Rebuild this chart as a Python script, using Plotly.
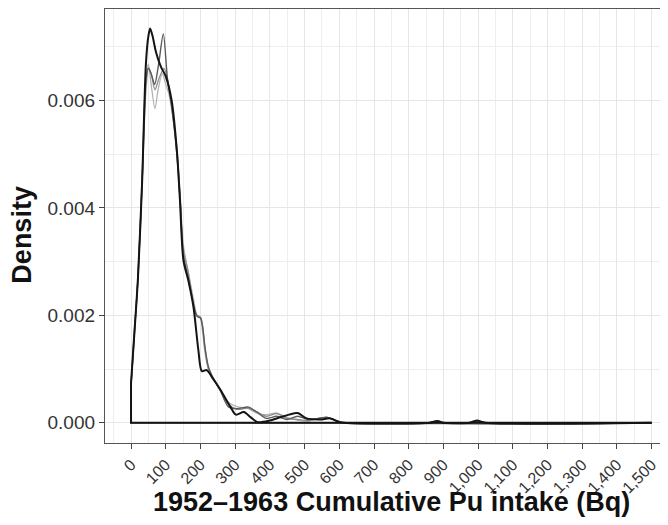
import plotly.graph_objects as go

# Density curves (x in Bq, y density)
black_x = [0, 10, 20, 32, 43, 50, 55, 62, 72, 86, 100, 117, 132, 141, 151, 165, 180, 194, 204, 218,
           233, 257, 286, 302, 325, 345, 365, 400, 430, 455, 480, 506, 545, 574, 598, 615, 860, 882, 900, 975,
           997, 1020, 1500]
black_y = [0.00074, 0.0017, 0.0027, 0.0045, 0.0067, 0.0072, 0.00734, 0.0072, 0.0069, 0.00663,
           0.00645, 0.0060, 0.00507, 0.00414, 0.00302, 0.00265, 0.00215, 0.00135, 0.00096, 0.00098,
           0.00085, 0.00062, 0.0003, 0.00015, 0.0002, 0.0001, 0.00001, 0.00004, 0.0001, 0.00015,
           0.00018, 0.00008, 0.00006, 0.00008, 0.00002, 0.0, 0.0, 0.00003, 0.0, 0.0,
           0.00004, 0.0, 0.0]

dgray_x = [0, 10, 20, 32, 43, 50, 58, 68, 80, 93, 105, 117, 132, 141, 151, 165, 180, 190, 200, 206,
           213, 223, 233, 257, 280, 305, 338, 362, 390, 420, 449, 480, 510, 540, 565, 590, 610, 860, 878, 895,
           980, 1000, 1020, 1500]
dgray_y = [0.0007, 0.0017, 0.0027, 0.0045, 0.0064, 0.0066, 0.0065, 0.0063, 0.0067, 0.00724,
           0.0064, 0.0059, 0.0050, 0.0042, 0.0031, 0.0027, 0.0022, 0.00198, 0.00195, 0.0018,
           0.0014, 0.00104, 0.00088, 0.0006, 0.0003, 0.00026, 0.00029, 0.0002, 0.00008, 0.00012,
           0.00006, 0.00012, 0.00006, 0.00008, 0.0001, 0.00004, 0.0, 0.0, 0.00003, 0.0,
           0.0, 0.00003, 0.0, 0.0]

mgray_x = [0, 10, 20, 32, 43, 50, 58, 69, 80, 95, 105, 117, 132, 141, 151, 165, 180, 190, 200, 206,
           213, 223, 233, 257, 280, 305, 338, 362, 390, 420, 449, 480, 510, 540, 565, 590, 610, 870, 886, 900,
           1500]
mgray_y = [0.0007, 0.0017, 0.0027, 0.0045, 0.0062, 0.0066, 0.0065, 0.0062, 0.0064, 0.0066,
           0.0064, 0.0059, 0.0051, 0.0042, 0.0032, 0.0028, 0.0022, 0.002, 0.00197, 0.0018,
           0.0014, 0.001, 0.00085, 0.00062, 0.00035, 0.00025, 0.00027, 0.0002, 0.00012, 0.00017,
           0.00008, 0.00006, 0.00004, 0.00008, 0.0001, 0.00004, 0.0, 0.0, 0.00004, 0.0,
           0.0]

lgray_x = [0, 10, 20, 32, 43, 50, 58, 69, 78, 90, 100, 110, 120, 132, 141, 151, 165, 180, 190, 200,
           206, 213, 223, 233, 257, 280, 305, 338, 362, 390, 420, 449, 480, 510, 540, 565, 590, 610, 1500]
lgray_y = [0.0007, 0.0017, 0.0027, 0.0045, 0.0064, 0.00668, 0.0063, 0.00585, 0.0062, 0.0065,
           0.0063, 0.0061, 0.0057, 0.0051, 0.0043, 0.0033, 0.0028, 0.0023, 0.002, 0.00195,
           0.0017, 0.0013, 0.001, 0.00088, 0.0006, 0.00038, 0.0003, 0.00026, 0.00018, 0.00015,
           0.00018, 0.0001, 0.00005, 0.00003, 0.00008, 0.0001, 0.00003, 0.0, 0.0]

x_ticks = list(range(0, 1501, 100))
x_tick_labels = [f"{v:,}" for v in x_ticks]
y_ticks = [0.0, 0.002, 0.004, 0.006]
y_tick_labels = ["0.000", "0.002", "0.004", "0.006"]

x_title = "1952–1963 Cumulative Pu intake (Bq)"
y_title = "Density"

series = [
    (lgray_x, lgray_y, "#b4b4b4", 1.3),
    (mgray_x, mgray_y, "#8c8c8c", 1.3),
    (dgray_x, dgray_y, "#5a5a5a", 1.4),
    (black_x, black_y, "#141414", 2.0),
]

fig = go.Figure()
for xs, ys, col, w in series:
    # outline of the density polygon: vertical at the start and baseline
    fig.add_trace(go.Scatter(x=[xs[-1], xs[0], xs[0]], y=[0, 0, ys[0]], mode="lines",
                             line=dict(color=col, width=w), hoverinfo="skip", showlegend=False))
    fig.add_trace(go.Scatter(x=xs, y=ys, mode="lines",
                             line=dict(color=col, width=w, shape="spline", smoothing=0.8),
                             showlegend=False))

font_family = "Liberation Sans, Arial, sans-serif"
fig.update_layout(
    width=660, height=517,
    margin=dict(l=97, r=0, t=1, b=82, autoexpand=False),
    paper_bgcolor="white", plot_bgcolor="white",
    font=dict(family=font_family, color="#333333"),
    xaxis=dict(
        automargin=False,
        range=[-75, 1547], tickmode="array", tickvals=x_ticks, ticktext=x_tick_labels,
        tickangle=-45, tickfont=dict(size=16, color="#333333"),
        showgrid=True, gridcolor="#e6e6e6", gridwidth=1,
        minor=dict(tickmode="linear", tick0=-50, dtick=100, showgrid=True,
                   gridcolor="#eeeeee", gridwidth=0.6, ticks=""),
        zeroline=False, showline=True, linecolor="#555555", linewidth=1.3, mirror=True,
        ticks="outside", ticklen=5, tickcolor="#444444", tickwidth=1,
    ),
    yaxis=dict(
        automargin=False,
        range=[-0.000378, 0.007704], tickmode="array", tickvals=y_ticks, ticktext=y_tick_labels,
        tickfont=dict(size=19, color="#333333"),
        showgrid=True, gridcolor="#e6e6e6", gridwidth=1,
        minor=dict(tickmode="linear", tick0=0.001, dtick=0.002, showgrid=True,
                   gridcolor="#eeeeee", gridwidth=0.6, ticks=""),
        zeroline=False, showline=True, linecolor="#555555", linewidth=1.3, mirror=False,
        ticks="outside", ticklen=5, tickcolor="#444444", tickwidth=1,
    ),
    annotations=[
        dict(text=f"<b>{x_title}</b>", xref="paper", yref="paper", x=0.508, y=-0.097,
             xanchor="center", yanchor="top", showarrow=False,
             font=dict(size=27, color="#111111", family=font_family)),
        dict(text=f"<b>{y_title}</b>", xref="paper", yref="paper", x=-0.1465, y=0.479,
             xanchor="center", yanchor="middle", textangle=-90, showarrow=False,
             font=dict(size=27, color="#111111", family=font_family)),
    ],
)

fig.write_html("out.html")
